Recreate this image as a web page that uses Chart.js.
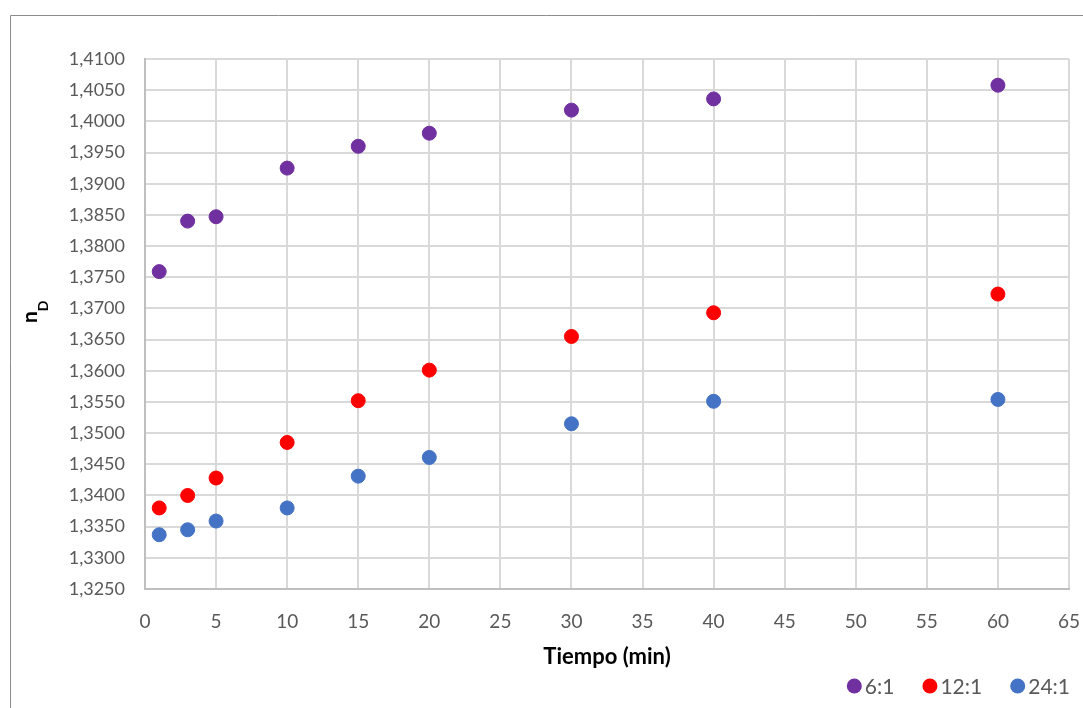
<!DOCTYPE html>
<html>
<head>
    <title>nD vs Tiempo</title>
    <script src="https://cdn.jsdelivr.net/npm/chart.js"></script>
    <style>
        body { margin: 0; background: #fff; }
        #wrap { width: 1083px; height: 708px; position: relative; }
    </style>
</head>
<body>
    <div id="wrap"><canvas id="chart"></canvas></div>

    <script>
        // Data
        const tiempo = [1, 3, 5, 10, 15, 20, 30, 40, 60];
        const nd6 = [1.3759, 1.3840, 1.3847, 1.3925, 1.3960, 1.3981, 1.4018, 1.4036, 1.4058];
        const nd12 = [1.3380, 1.3400, 1.3428, 1.3485, 1.3552, 1.3601, 1.3655, 1.3693, 1.3723];
        const nd24 = [1.3337, 1.3345, 1.3359, 1.3380, 1.3431, 1.3461, 1.3515, 1.3551, 1.3554];
        const seriesNames = ['6:1', '12:1', '24:1'];
        const colors = ['#7030a0', '#ff0000', '#4472c4'];

        const FONT = 'Lato, "Open Sans", sans-serif';
        const GRAY = '#595959';

        const pts = ys => tiempo.map((t, i) => ({ x: t, y: ys[i] }));

        // outer frame, rotated y title with subscript, and the legend (Excel style)
        const extras = {
            id: 'extras',
            beforeDraw(chart) {
                const ctx = chart.ctx;
                ctx.save();
                ctx.strokeStyle = '#8c8c8c';
                ctx.lineWidth = 1;
                ctx.beginPath();
                ctx.moveTo(10.5, 708);
                ctx.lineTo(10.5, 15.5);
                ctx.lineTo(1083, 15.5);
                ctx.stroke();
                ctx.restore();
            },
            afterDraw(chart) {
                const ctx = chart.ctx;
                ctx.save();
                ctx.translate(37, 313);
                ctx.rotate(-Math.PI / 2);
                ctx.fillStyle = '#000';
                ctx.textBaseline = 'alphabetic';
                ctx.font = 'bold 21px ' + FONT;
                ctx.fillText('n', -10, 0);
                const w = ctx.measureText('n').width;
                ctx.font = 'bold 14px ' + FONT;
                ctx.fillText('D', -10 + w, 11);
                ctx.restore();

                // legend, laid out from the right edge
                ctx.save();
                ctx.font = '21px ' + FONT;
                ctx.textBaseline = 'middle';
                const ly = 686, r = 7.5, gapText = 3, gapItem = 28;
                let x = 1070;
                const items = chart.data.datasets.map(ds => ({ text: ds.label, color: ds.backgroundColor }));
                const placed = [];
                for (let i = items.length - 1; i >= 0; i--) {
                    const tw = ctx.measureText(items[i].text).width;
                    const tx = x - tw;
                    const cx = tx - gapText - r;
                    placed.push({ tx, cx, ...items[i] });
                    x = cx - r - gapItem;
                }
                placed.forEach(p => {
                    ctx.fillStyle = p.color;
                    ctx.beginPath();
                    ctx.arc(p.cx, ly, r, 0, Math.PI * 2);
                    ctx.fill();
                    ctx.fillStyle = GRAY;
                    ctx.fillText(p.text, p.tx, ly + 1);
                });
                ctx.restore();
            }
        };

        const datasets = [nd6, nd12, nd24].map((d, i) => ({
            label: seriesNames[i],
            data: pts(d),
            backgroundColor: colors[i],
            borderColor: colors[i],
            pointRadius: 7,
            pointHoverRadius: 7,
            showLine: false
        }));

        new Chart(document.getElementById('chart'), {
            type: 'scatter',
            data: { datasets: datasets },
            options: {
                responsive: true,
                maintainAspectRatio: false,
                animation: false,
                layout: { padding: { top: 59, right: 14, left: 0, bottom: 0 } },
                plugins: {
                    tooltip: { enabled: false },
                    legend: { display: false }
                },
                scales: {
                    x: {
                        type: 'linear',
                        min: 0, max: 65,
                        ticks: { stepSize: 5, color: GRAY, font: { family: FONT, size: 19 }, padding: 21 },
                        grid: { color: '#d9d9d9', lineWidth: 2, drawTicks: false },
                        border: { color: '#bfbfbf', width: 2 },
                        title: { display: true, text: 'Tiempo (min)', color: '#000', font: { family: FONT, size: 22, weight: 'bold' }, padding: { top: 0, bottom: 38 } },
                        afterFit(scale) {
                            scale.height = 119;
                            scale.paddingLeft = 0;
                            scale.paddingRight = 0;
                        }
                    },
                    y: {
                        min: 1.325, max: 1.41,
                        ticks: {
                            stepSize: 0.005,
                            color: GRAY,
                            font: { family: FONT, size: 18 },
                            padding: 20,
                            callback: v => v.toFixed(4).replace('.', ',')
                        },
                        grid: { color: '#d9d9d9', lineWidth: 2, drawTicks: false },
                        border: { color: '#bfbfbf', width: 2 },
                        afterFit(scale) { scale.width = 145; }
                    }
                }
            },
            plugins: [extras]
        });
    </script>
</body>
</html>
